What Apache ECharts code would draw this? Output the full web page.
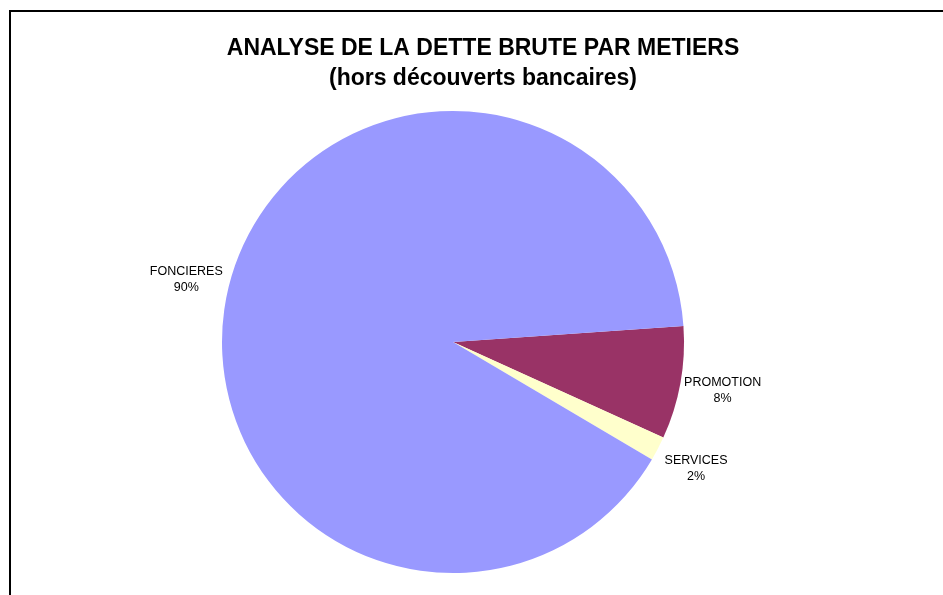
<!DOCTYPE html>
<html>
<head>
<meta charset="utf-8">
<title>Analyse de la dette brute par metiers</title>
<script src="https://cdn.jsdelivr.net/npm/echarts@6/dist/echarts.min.js"></script>
<style>
  html, body { margin: 0; padding: 0; background: #ffffff; }
  #chart { width: 943px; height: 595px; }
</style>
</head>
<body>
<div id="chart"></div>
<script>
// metiers et parts de la dette (en %)
const categories = ['PROMOTION', 'SERVICES', 'FONCIERES']
const values = [7.9, 1.7, 90.4]
const colors = ['#993366', '#FFFFCC', '#9999FF']

const pieData = categories.map((name, i) => ({ name: name, value: values[i] }))
const center = [453, 342]
const startAngle = 4

const chart = echarts.init(document.getElementById('chart'))
chart.setOption({
  animation: false,
  title: {
    text: 'ANALYSE DE LA DETTE BRUTE PAR METIERS\n(hors découverts bancaires)',
    left: 483,
    top: 34,
    padding: 0,
    textAlign: 'center',
    textStyle: {
      fontFamily: 'Liberation Sans, Arial, sans-serif',
      fontSize: 23,
      fontWeight: 'bold',
      color: '#000000',
      lineHeight: 30
    }
  },
  graphic: [
    {
      // cadre
      type: 'rect',
      shape: { x: 10, y: 11, width: 1000, height: 1000 },
      style: { fill: 'none', stroke: '#000000', lineWidth: 2 },
      silent: true
    }
  ],
  series: [
    {
      name: 'dette',
      type: 'pie',
      center: center,
      radius: [0, 231],
      startAngle: startAngle,
      clockwise: true,
      silent: true,
      color: colors,
      label: { show: false },
      labelLine: { show: false },
      data: pieData
    },
    {
      // anneau invisible, sert seulement a placer les etiquettes
      name: 'etiquettes',
      type: 'pie',
      center: center,
      radius: [231, 311],
      startAngle: startAngle,
      clockwise: true,
      silent: true,
      itemStyle: { color: 'rgba(0,0,0,0)' },
      label: {
        show: true,
        position: 'inside',
        fontFamily: 'Liberation Sans, Arial, sans-serif',
        fontSize: 12.5,
        color: '#000000',
        lineHeight: 16,
        align: 'center',
        formatter: (p) => p.name + '\n' + Math.round(p.percent) + '%'
      },
      labelLine: { show: false },
      data: pieData
    }
  ]
})
</script>
</body>
</html>
